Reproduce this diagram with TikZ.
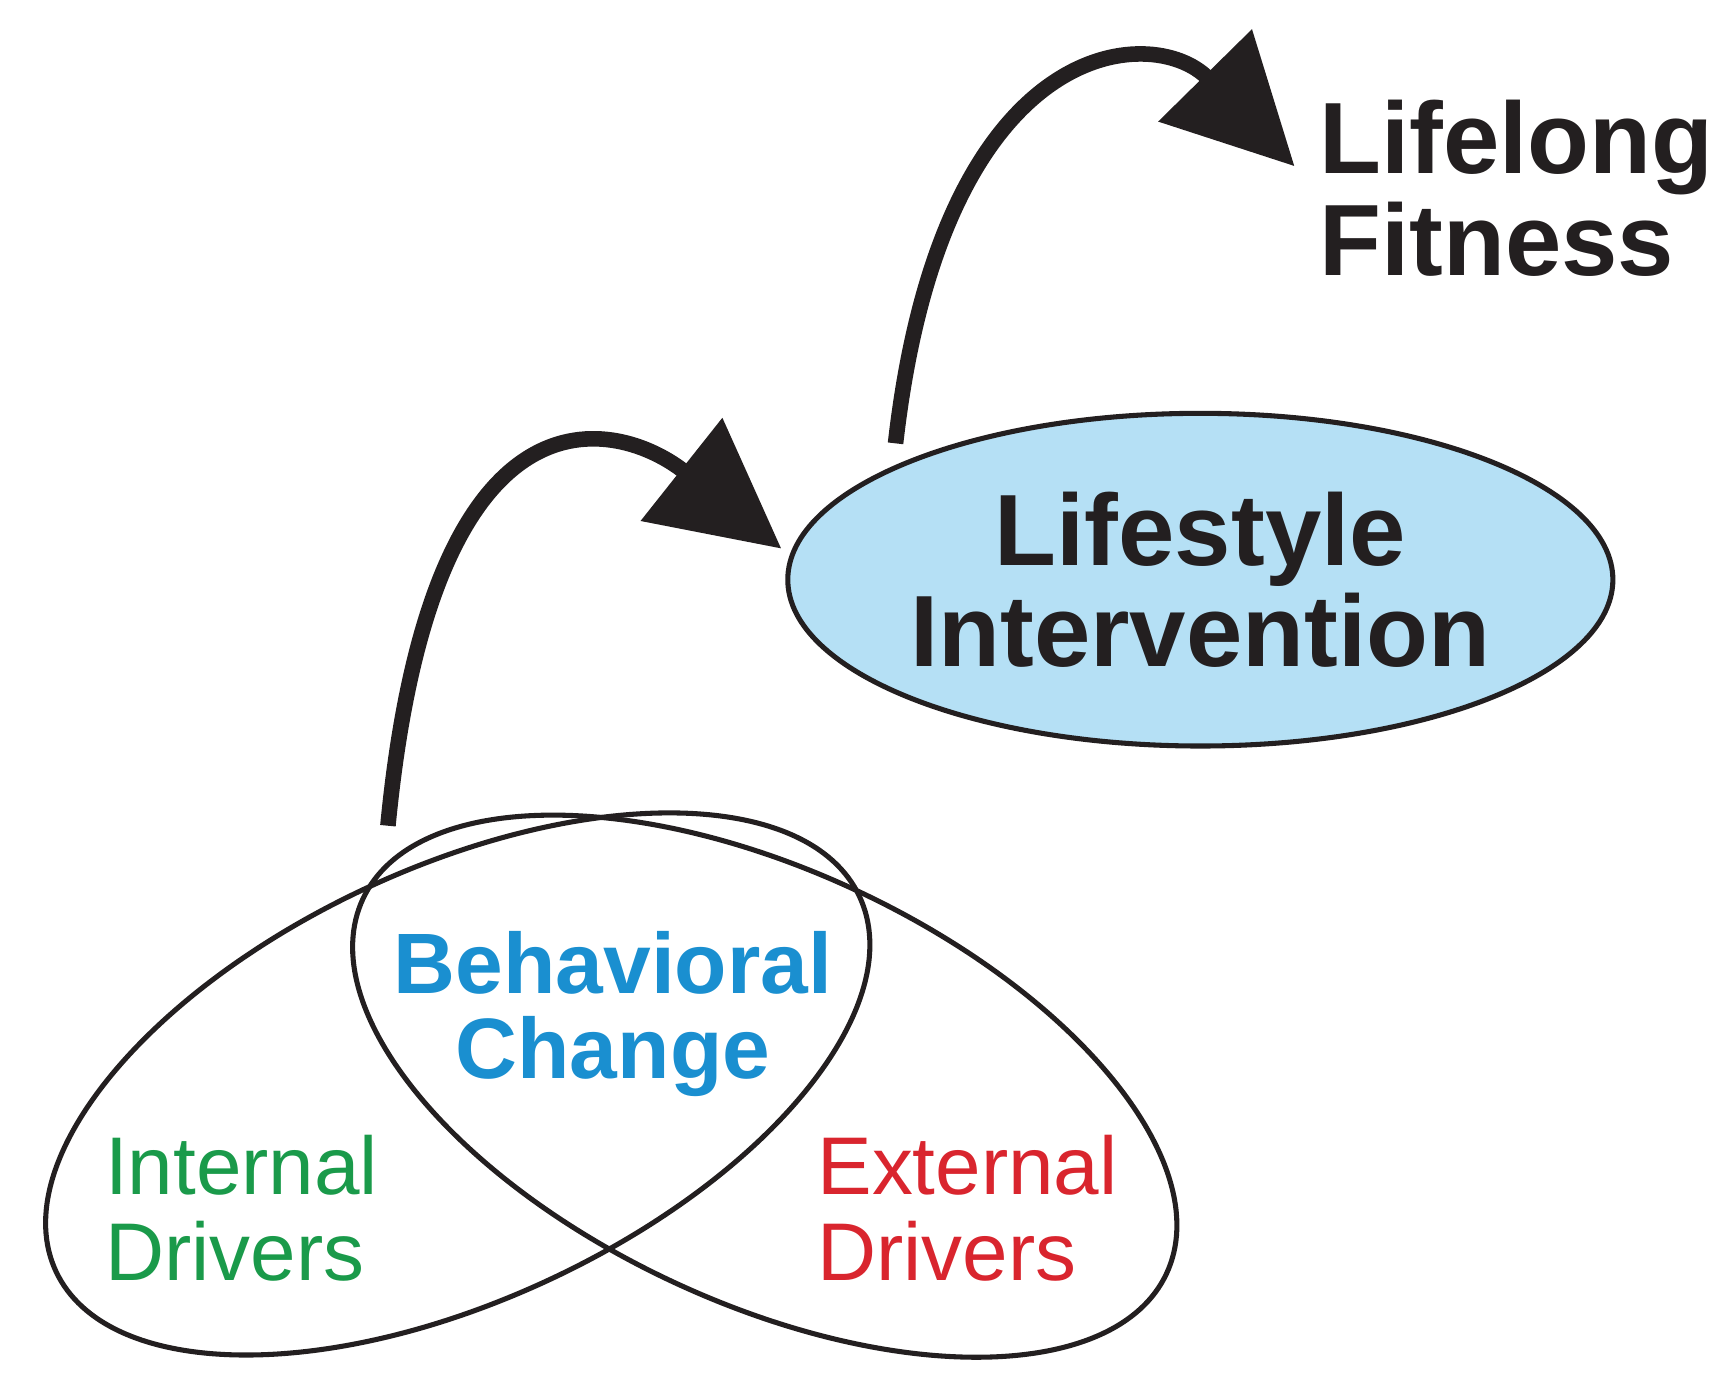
\documentclass[tikz,border=0pt]{standalone}
\usepackage{fontspec}
\setmainfont{Liberation Sans}
\usetikzlibrary{arrows.meta,shapes.geometric}
\definecolor{lblue}{HTML}{B5E0F5}
\definecolor{tblue}{HTML}{1A8FD0}
\definecolor{tgreen}{HTML}{1A9A4A}
\definecolor{tred}{HTML}{D9252E}
\definecolor{ink}{HTML}{231F20}
\tikzset{
 big/.style={font=\fontsize{26}{30}\selectfont\bfseries, align=center, text=ink},
 flow/.style={line width=4pt, draw=ink, -{Triangle[length=1.15cm,width=1.15cm]}},
 venn/.style={line width=1.3pt, draw=ink},
}
\begin{document}
\begin{tikzpicture}[x=0.01cm,y=-0.01cm]
\useasboundingbox (0,0) rectangle (1560,1257);
\node[ellipse, draw=ink, line width=1.3pt, fill=lblue, inner sep=0pt, minimum width=7.44cm, minimum height=3cm, big] (li) at (1083,523) {Lifestyle\\[-4pt]Intervention};
\node[font=\fontsize{26}{30}\selectfont\bfseries, text=ink, align=left, anchor=west] (lf) at (1178,170) {Lifelong\\[-4pt]Fitness};
\draw[venn, rotate around={25:(413,978)}] (413,978) ellipse [x radius=400, y radius=195];
\draw[venn, rotate around={-25:(690,980)}] (690,980) ellipse [x radius=400, y radius=195];
\node[font=\fontsize{22}{26}\selectfont\bfseries, text=tblue, align=center] (bc) at (553,915) {Behavioral\\[-4pt]Change};
\node[font=\fontsize{21}{25}\selectfont, text=tgreen, align=left] (id) at (218,1090) {Internal\\[-3pt]Drivers};
\node[font=\fontsize{21}{25}\selectfont, text=tred, align=left] (ed) at (873,1090) {External\\[-3pt]Drivers};
\coordinate (s1) at (350,745);
\coordinate (t1) at (705,495);
\coordinate (s2) at (808,400);
\coordinate (t2) at (1168,150);
\draw[flow] (s1) .. controls (390,330) and (560,380) .. (t1);
\draw[flow] (s2) .. controls (850,30) and (1040,20) .. (t2);
\end{tikzpicture}
\end{document}
